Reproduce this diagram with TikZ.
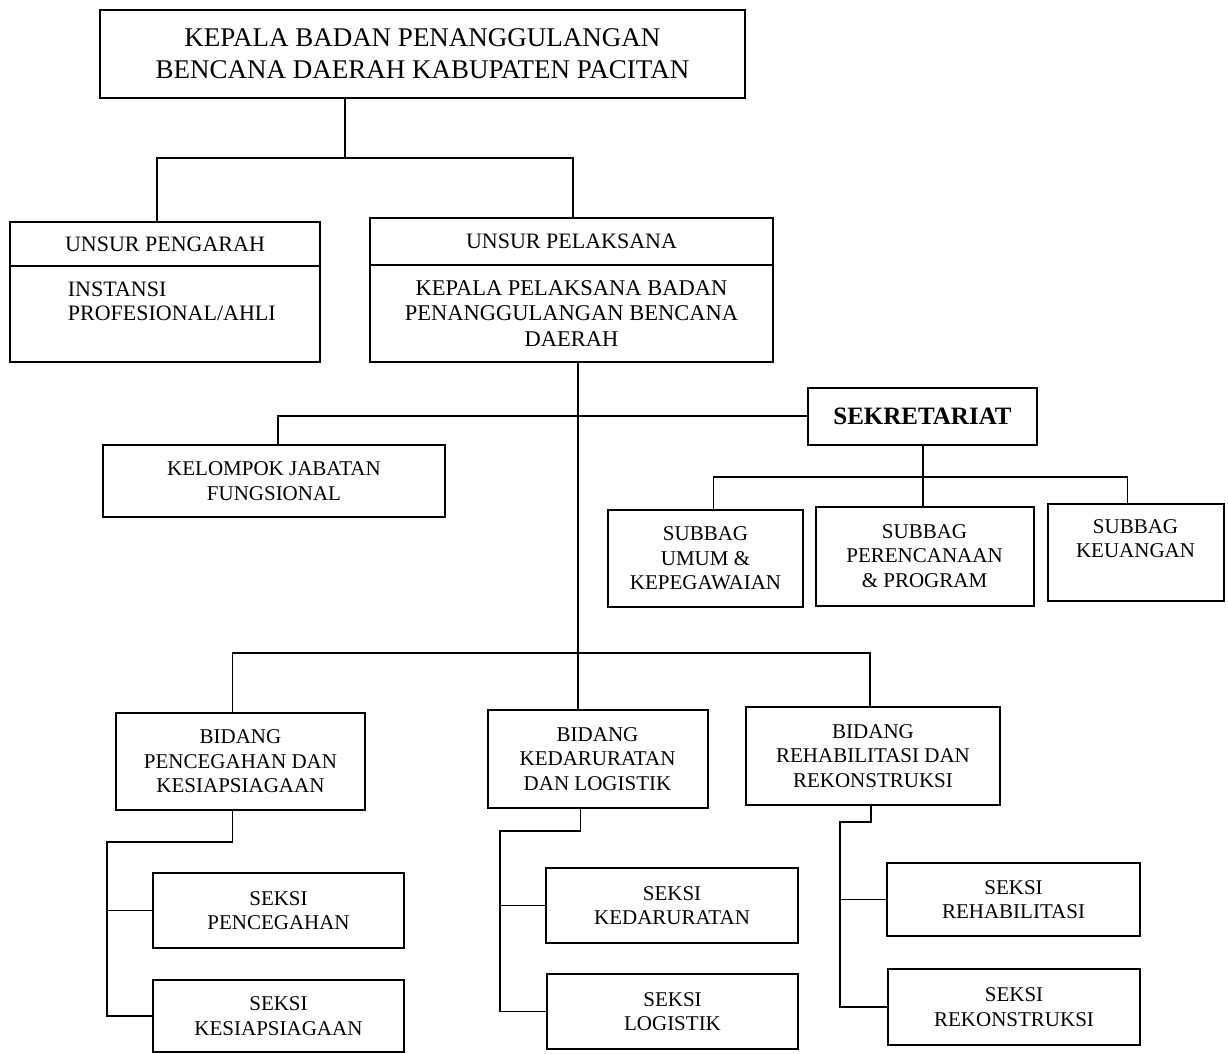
\documentclass[tikz,border=0pt]{standalone}
\usepackage{fontspec}
\setmainfont{Liberation Serif}
\usetikzlibrary{positioning}
\tikzset{
    every node/.style={font=\fontsize{21}{24.5}\selectfont},
    box node/.style={draw,line width=2pt,rectangle,inner sep=0pt,align=center},
    plain node/.style={inner sep=0pt,align=center},
    size/.style 2 args={minimum width=#1pt,minimum height=#2pt}
}

\begin{document}
\begin{tikzpicture}[x=1pt,y=-1pt,line width=1.8pt]
    \useasboundingbox[fill=white] (0,0) rectangle (1228,1053);

        % head and the two unsur
        \node[box node,size={645}{88},font=\fontsize{27}{32}\selectfont] (kepala) at (422.5,54) {KEPALA BADAN PENANGGULANGAN\\BENCANA DAERAH KABUPATEN PACITAN};
        \node[box node,size={310}{44},font=\fontsize{22}{25}\selectfont] (pengarah) at (165,244) {UNSUR PENGARAH};
        \node[box node,size={310}{96}] (instansi) at (165,314) {};
        \node[plain node,align=left,anchor=north west,font=\fontsize{22}{24.5}\selectfont] (instansi text) [below right=16pt and 58pt of instansi.north west] {INSTANSI\\PROFESIONAL/AHLI};
        \node[box node,size={403}{47},font=\fontsize{22}{25}\selectfont] (pelaksana) at (571.5,241.5) {UNSUR PELAKSANA};
        \node[box node,size={403}{97},font=\fontsize{22.5}{25.5}\selectfont] (kalaksa) at (571.5,313.5) {KEPALA PELAKSANA BADAN\\PENANGGULANGAN BENCANA\\DAERAH};

        % sekretariat
        \node[box node,size={342}{72}] (kelompok) at (274,481) {KELOMPOK JABATAN\\FUNGSIONAL};
        \node[box node,size={229}{57},font=\bfseries\fontsize{25}{30}\selectfont] (sekretariat) at (922.5,416) {SEKRETARIAT};
        \node[box node,size={195}{97}] (umum) at (705.5,558.5) {SUBBAG\\UMUM \&\\KEPEGAWAIAN};
        \node[box node,size={218}{99}] (perencanaan) at (924.5,556) {SUBBAG\\PERENCANAAN\\\& PROGRAM};
        \node[box node,size={176}{97}] (keuangan) at (1135.5,552) {};
        \node[plain node,anchor=north] (keuangan text) [below=16pt of keuangan.north] {SUBBAG\\KEUANGAN};

        % bidang
        \node[box node,size={249}{97}] (pencegahan) at (240.5,761.5) {BIDANG\\PENCEGAHAN DAN\\KESIAPSIAGAAN};
        \node[box node,size={220}{98}] (kedaruratan) at (597.5,759) {BIDANG\\KEDARURATAN\\DAN LOGISTIK};
        \node[box node,size={254}{98}] (rehabilitasi) at (873,756) {BIDANG\\REHABILITASI DAN\\REKONSTRUKSI};

        % seksi
        \node[box node,size={251}{75}] (spencegahan) at (278.5,910.5) {SEKSI\\PENCEGAHAN};
        \node[box node,size={251}{72}] (skesiapsiagaan) at (278.5,1016) {SEKSI\\KESIAPSIAGAAN};
        \node[box node,size={252}{75}] (skedaruratan) at (672,905.5) {SEKSI\\KEDARURATAN};
        \node[box node,size={251}{75}] (slogistik) at (672.5,1011.5) {SEKSI\\LOGISTIK};
        \node[box node,size={253}{73}] (srehabilitasi) at (1013.5,899.5) {SEKSI\\REHABILITASI};
        \node[box node,size={252}{76}] (srekonstruksi) at (1014,1007) {SEKSI\\REKONSTRUKSI};

        % connectors
        \coordinate (top joint) at (345,158);
        \draw (kepala.south -| top joint) -- (top joint);
        \draw ([xshift=-8pt]pengarah.north) |- (top joint) -| ([xshift=1.5pt]pelaksana.north);

        \coordinate (spine) at (578,653);
        \draw (kalaksa.south -| spine) -- (kedaruratan.north -| spine);
        \draw ([xshift=4pt]kelompok.north) |- (sekretariat.west);

        \coordinate (sekre joint) at (923,477);
        \draw (sekretariat.south -| sekre joint) -- (perencanaan.north -| sekre joint);
        \draw ([xshift=8pt]umum.north) |- (sekre joint) -| ([xshift=-8pt]keuangan.north);

        \draw ([xshift=-8pt]pencegahan.north) |- (spine) -| ([xshift=-3pt]rehabilitasi.north);

        \coordinate (pcg turn) at (107,842);
        \draw ([xshift=-8pt]pencegahan.south) |- (pcg turn) |- (spencegahan.west);
        \draw (pcg turn) |- (skesiapsiagaan.west);

        \coordinate (kdr turn) at (500,831);
        \draw ([xshift=-17pt]kedaruratan.south) |- (kdr turn) |- (skedaruratan.west);
        \draw (kdr turn) |- (slogistik.west);

        \coordinate (rhb turn) at (840,822);
        \draw ([xshift=-2pt]rehabilitasi.south) |- (rhb turn) |- (srehabilitasi.west);
        \draw (rhb turn) |- (srekonstruksi.west);
      \end{tikzpicture}
\end{document}
